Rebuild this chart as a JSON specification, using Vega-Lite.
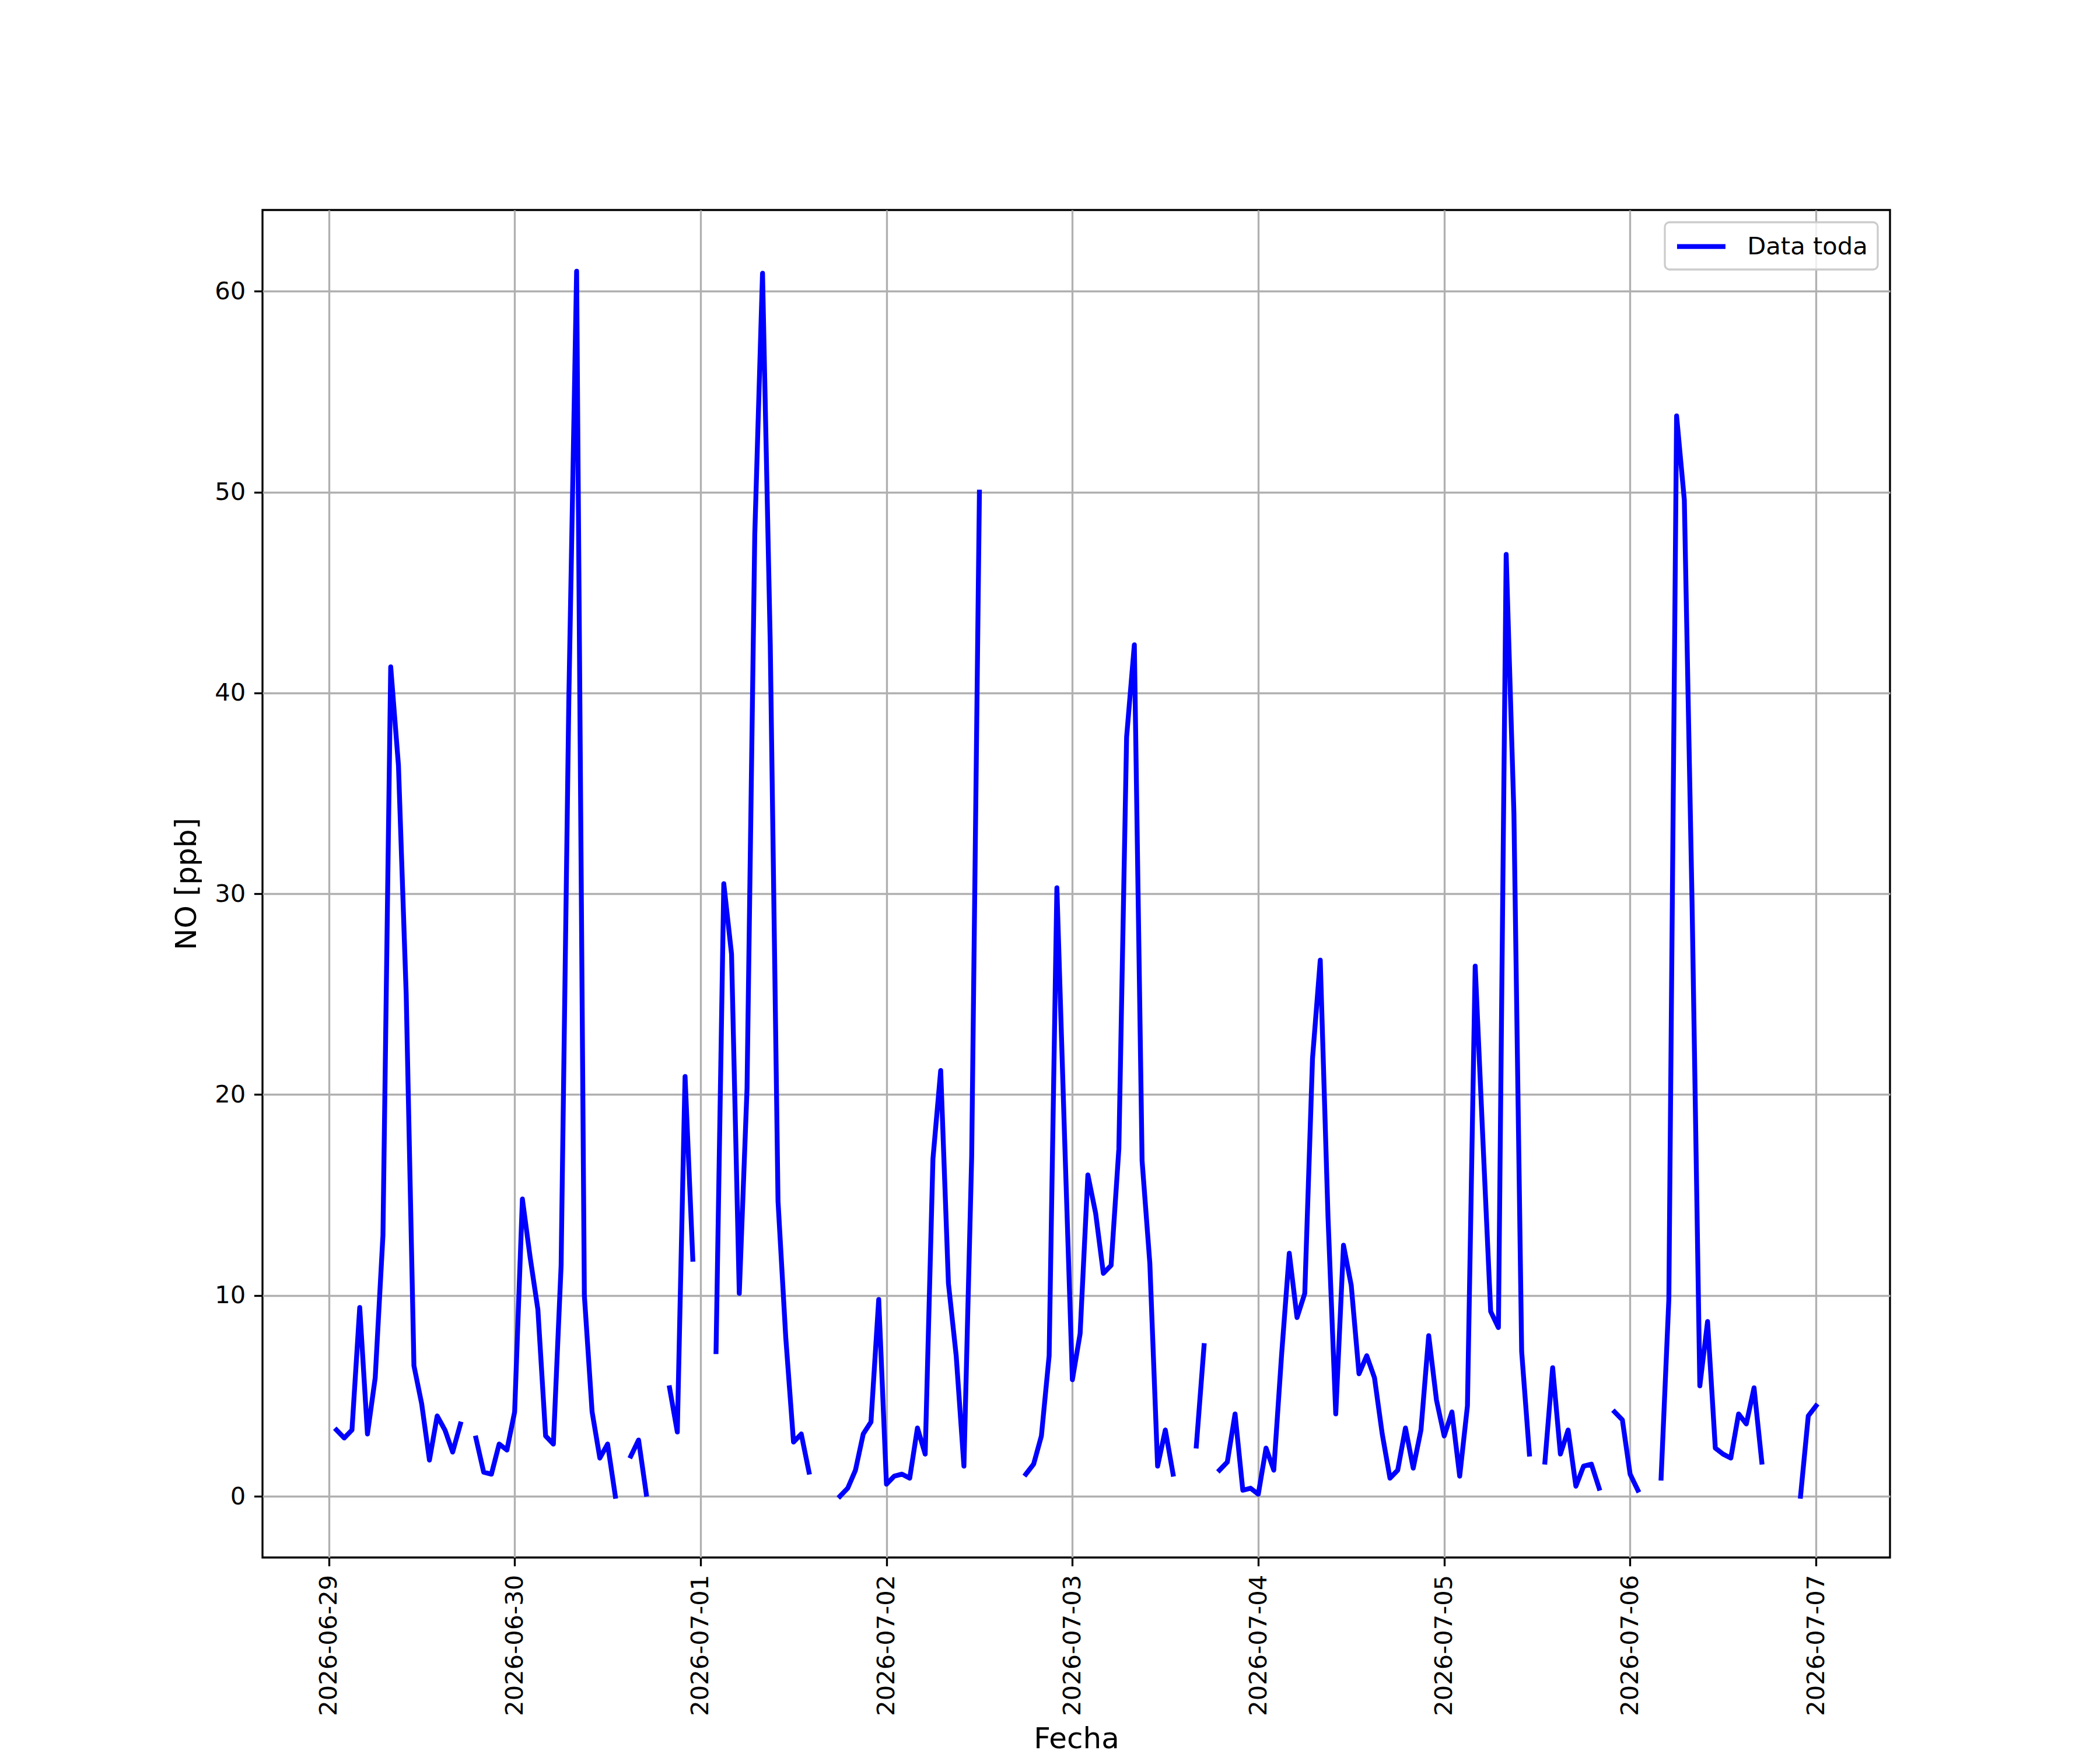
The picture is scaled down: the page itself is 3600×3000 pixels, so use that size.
{
  "$schema": "https://vega.github.io/schema/vega-lite/v6.json",
  "width": 2790,
  "height": 2310,
  "autosize": {"type": "none"},
  "padding": {"left": 450, "top": 360, "right": 360, "bottom": 330},
  "background": "white",
  "config": {
    "font": "DejaVu Sans",
    "view": {"stroke": "black", "strokeWidth": 3.33},
    "axis": {
      "labelFont": "DejaVu Sans", "labelFontSize": 41.67, "labelColor": "black", "labelLimit": 0,
      "titleFont": "DejaVu Sans", "titleFontSize": 50, "titleFontWeight": "normal", "titleColor": "black",
      "tickColor": "black", "tickWidth": 3.33, "tickSize": 14.58, "labelPadding": 14.58,
      "domain": false, "grid": true, "gridColor": "#b0b0b0", "gridWidth": 3.33, "gridOpacity": 1,
      "labelOverlap": false, "labelFlush": false, "labelBound": false
    },
    "legend": {
      "orient": "top-right", "offset": 21, "padding": 16.7, "strokeColor": "#cccccc", "strokeWidth": 3.33,
      "fillColor": "rgba(255,255,255,0.8)", "cornerRadius": 8,
      "labelFont": "DejaVu Sans", "labelFontSize": 41.67, "labelColor": "black", "labelOffset": 74.5, "labelLimit": 0,
      "symbolType": "M-1,0L3,0", "symbolSize": 1722, "symbolStrokeWidth": 8.33
    }
  },
  "data": {
    "format": {"parse": {"t": "date"}},
    "values": [
      {"t": "2026-06-29T01:00", "no": 3.3}, {"t": "2026-06-29T02:00", "no": 2.9}, {"t": "2026-06-29T03:00", "no": 3.3},
      {"t": "2026-06-29T04:00", "no": 9.4}, {"t": "2026-06-29T05:00", "no": 3.1}, {"t": "2026-06-29T06:00", "no": 5.9},
      {"t": "2026-06-29T07:00", "no": 13.0}, {"t": "2026-06-29T08:00", "no": 41.3}, {"t": "2026-06-29T09:00", "no": 36.4},
      {"t": "2026-06-29T10:00", "no": 25.0}, {"t": "2026-06-29T11:00", "no": 6.5}, {"t": "2026-06-29T12:00", "no": 4.6},
      {"t": "2026-06-29T13:00", "no": 1.8}, {"t": "2026-06-29T14:00", "no": 4.0}, {"t": "2026-06-29T15:00", "no": 3.3},
      {"t": "2026-06-29T16:00", "no": 2.2}, {"t": "2026-06-29T17:00", "no": 3.6}, {"t": "2026-06-29T18:00", "no": null},
      {"t": "2026-06-29T19:00", "no": 2.9}, {"t": "2026-06-29T20:00", "no": 1.2}, {"t": "2026-06-29T21:00", "no": 1.1},
      {"t": "2026-06-29T22:00", "no": 2.6}, {"t": "2026-06-29T23:00", "no": 2.3},
      {"t": "2026-06-30T00:00", "no": 4.2}, {"t": "2026-06-30T01:00", "no": 14.8}, {"t": "2026-06-30T02:00", "no": 11.9},
      {"t": "2026-06-30T03:00", "no": 9.3}, {"t": "2026-06-30T04:00", "no": 3.0}, {"t": "2026-06-30T05:00", "no": 2.6},
      {"t": "2026-06-30T06:00", "no": 11.5}, {"t": "2026-06-30T07:00", "no": 39.8}, {"t": "2026-06-30T08:00", "no": 61.0},
      {"t": "2026-06-30T09:00", "no": 10.0}, {"t": "2026-06-30T10:00", "no": 4.2}, {"t": "2026-06-30T11:00", "no": 1.9},
      {"t": "2026-06-30T12:00", "no": 2.6}, {"t": "2026-06-30T13:00", "no": 0.0}, {"t": "2026-06-30T14:00", "no": null},
      {"t": "2026-06-30T15:00", "no": 2.0}, {"t": "2026-06-30T16:00", "no": 2.8}, {"t": "2026-06-30T17:00", "no": 0.1},
      {"t": "2026-06-30T18:00", "no": null}, {"t": "2026-06-30T19:00", "no": null}, {"t": "2026-06-30T20:00", "no": 5.4},
      {"t": "2026-06-30T21:00", "no": 3.2}, {"t": "2026-06-30T22:00", "no": 20.9}, {"t": "2026-06-30T23:00", "no": 11.8},
      {"t": "2026-07-01T00:00", "no": null}, {"t": "2026-07-01T01:00", "no": null}, {"t": "2026-07-01T02:00", "no": 7.2},
      {"t": "2026-07-01T03:00", "no": 30.5}, {"t": "2026-07-01T04:00", "no": 27.0}, {"t": "2026-07-01T05:00", "no": 10.1},
      {"t": "2026-07-01T06:00", "no": 20.3}, {"t": "2026-07-01T07:00", "no": 47.9}, {"t": "2026-07-01T08:00", "no": 60.9},
      {"t": "2026-07-01T09:00", "no": 42.4}, {"t": "2026-07-01T10:00", "no": 14.7}, {"t": "2026-07-01T11:00", "no": 7.9},
      {"t": "2026-07-01T12:00", "no": 2.7}, {"t": "2026-07-01T13:00", "no": 3.1}, {"t": "2026-07-01T14:00", "no": 1.2},
      {"t": "2026-07-01T15:00", "no": null}, {"t": "2026-07-01T16:00", "no": null}, {"t": "2026-07-01T17:00", "no": null},
      {"t": "2026-07-01T18:00", "no": 0.0}, {"t": "2026-07-01T19:00", "no": 0.4}, {"t": "2026-07-01T20:00", "no": 1.3},
      {"t": "2026-07-01T21:00", "no": 3.1}, {"t": "2026-07-01T22:00", "no": 3.7}, {"t": "2026-07-01T23:00", "no": 9.8},
      {"t": "2026-07-02T00:00", "no": 0.6}, {"t": "2026-07-02T01:00", "no": 1.0}, {"t": "2026-07-02T02:00", "no": 1.1},
      {"t": "2026-07-02T03:00", "no": 0.9}, {"t": "2026-07-02T04:00", "no": 3.4}, {"t": "2026-07-02T05:00", "no": 2.1},
      {"t": "2026-07-02T06:00", "no": 16.8}, {"t": "2026-07-02T07:00", "no": 21.2}, {"t": "2026-07-02T08:00", "no": 10.6},
      {"t": "2026-07-02T09:00", "no": 7.0}, {"t": "2026-07-02T10:00", "no": 1.5}, {"t": "2026-07-02T11:00", "no": 16.9},
      {"t": "2026-07-02T12:00", "no": 50.0}, {"t": "2026-07-02T13:00", "no": null}, {"t": "2026-07-02T14:00", "no": null},
      {"t": "2026-07-02T15:00", "no": null}, {"t": "2026-07-02T16:00", "no": null}, {"t": "2026-07-02T17:00", "no": null},
      {"t": "2026-07-02T18:00", "no": 1.1}, {"t": "2026-07-02T19:00", "no": 1.6}, {"t": "2026-07-02T20:00", "no": 3.0},
      {"t": "2026-07-02T21:00", "no": 7.0}, {"t": "2026-07-02T22:00", "no": 30.3}, {"t": "2026-07-02T23:00", "no": 17.8},
      {"t": "2026-07-03T00:00", "no": 5.8}, {"t": "2026-07-03T01:00", "no": 8.1}, {"t": "2026-07-03T02:00", "no": 16.0},
      {"t": "2026-07-03T03:00", "no": 14.1}, {"t": "2026-07-03T04:00", "no": 11.1}, {"t": "2026-07-03T05:00", "no": 11.5},
      {"t": "2026-07-03T06:00", "no": 17.3}, {"t": "2026-07-03T07:00", "no": 37.8}, {"t": "2026-07-03T08:00", "no": 42.4},
      {"t": "2026-07-03T09:00", "no": 16.7}, {"t": "2026-07-03T10:00", "no": 11.6}, {"t": "2026-07-03T11:00", "no": 1.5},
      {"t": "2026-07-03T12:00", "no": 3.3}, {"t": "2026-07-03T13:00", "no": 1.1}, {"t": "2026-07-03T14:00", "no": null},
      {"t": "2026-07-03T15:00", "no": null}, {"t": "2026-07-03T16:00", "no": 2.5}, {"t": "2026-07-03T17:00", "no": 7.5},
      {"t": "2026-07-03T18:00", "no": null}, {"t": "2026-07-03T19:00", "no": 1.3}, {"t": "2026-07-03T20:00", "no": 1.7},
      {"t": "2026-07-03T21:00", "no": 4.1}, {"t": "2026-07-03T22:00", "no": 0.3}, {"t": "2026-07-03T23:00", "no": 0.4},
      {"t": "2026-07-04T00:00", "no": 0.1}, {"t": "2026-07-04T01:00", "no": 2.4}, {"t": "2026-07-04T02:00", "no": 1.3},
      {"t": "2026-07-04T03:00", "no": 7.0}, {"t": "2026-07-04T04:00", "no": 12.1}, {"t": "2026-07-04T05:00", "no": 8.9},
      {"t": "2026-07-04T06:00", "no": 10.1}, {"t": "2026-07-04T07:00", "no": 21.8}, {"t": "2026-07-04T08:00", "no": 26.7},
      {"t": "2026-07-04T09:00", "no": 13.9}, {"t": "2026-07-04T10:00", "no": 4.1}, {"t": "2026-07-04T11:00", "no": 12.5},
      {"t": "2026-07-04T12:00", "no": 10.5}, {"t": "2026-07-04T13:00", "no": 6.1}, {"t": "2026-07-04T14:00", "no": 7.0},
      {"t": "2026-07-04T15:00", "no": 5.9}, {"t": "2026-07-04T16:00", "no": 3.1}, {"t": "2026-07-04T17:00", "no": 0.9},
      {"t": "2026-07-04T18:00", "no": 1.3}, {"t": "2026-07-04T19:00", "no": 3.4}, {"t": "2026-07-04T20:00", "no": 1.4},
      {"t": "2026-07-04T21:00", "no": 3.3}, {"t": "2026-07-04T22:00", "no": 8.0}, {"t": "2026-07-04T23:00", "no": 4.8},
      {"t": "2026-07-05T00:00", "no": 3.0}, {"t": "2026-07-05T01:00", "no": 4.2}, {"t": "2026-07-05T02:00", "no": 1.0},
      {"t": "2026-07-05T03:00", "no": 4.5}, {"t": "2026-07-05T04:00", "no": 26.4}, {"t": "2026-07-05T05:00", "no": 17.7},
      {"t": "2026-07-05T06:00", "no": 9.2}, {"t": "2026-07-05T07:00", "no": 8.4}, {"t": "2026-07-05T08:00", "no": 46.9},
      {"t": "2026-07-05T09:00", "no": 34.0}, {"t": "2026-07-05T10:00", "no": 7.2}, {"t": "2026-07-05T11:00", "no": 2.1},
      {"t": "2026-07-05T12:00", "no": null}, {"t": "2026-07-05T13:00", "no": 1.7}, {"t": "2026-07-05T14:00", "no": 6.4},
      {"t": "2026-07-05T15:00", "no": 2.1}, {"t": "2026-07-05T16:00", "no": 3.3}, {"t": "2026-07-05T17:00", "no": 0.5},
      {"t": "2026-07-05T18:00", "no": 1.5}, {"t": "2026-07-05T19:00", "no": 1.6}, {"t": "2026-07-05T20:00", "no": 0.4},
      {"t": "2026-07-05T21:00", "no": null}, {"t": "2026-07-05T22:00", "no": 4.2}, {"t": "2026-07-05T23:00", "no": 3.8},
      {"t": "2026-07-06T00:00", "no": 1.1}, {"t": "2026-07-06T01:00", "no": 0.3}, {"t": "2026-07-06T02:00", "no": null},
      {"t": "2026-07-06T03:00", "no": null}, {"t": "2026-07-06T04:00", "no": 0.9}, {"t": "2026-07-06T05:00", "no": 9.8},
      {"t": "2026-07-06T06:00", "no": 53.8}, {"t": "2026-07-06T07:00", "no": 49.6}, {"t": "2026-07-06T08:00", "no": 29.5},
      {"t": "2026-07-06T09:00", "no": 5.5}, {"t": "2026-07-06T10:00", "no": 8.7}, {"t": "2026-07-06T11:00", "no": 2.4},
      {"t": "2026-07-06T12:00", "no": 2.1}, {"t": "2026-07-06T13:00", "no": 1.9}, {"t": "2026-07-06T14:00", "no": 4.1},
      {"t": "2026-07-06T15:00", "no": 3.6}, {"t": "2026-07-06T16:00", "no": 5.4}, {"t": "2026-07-06T17:00", "no": 1.7},
      {"t": "2026-07-06T18:00", "no": null}, {"t": "2026-07-06T19:00", "no": null}, {"t": "2026-07-06T20:00", "no": null},
      {"t": "2026-07-06T21:00", "no": null}, {"t": "2026-07-06T22:00", "no": 0.0}, {"t": "2026-07-06T23:00", "no": 4.0},
      {"t": "2026-07-07T00:00", "no": 4.5}
    ]
  },
  "mark": {"type": "line", "strokeWidth": 8.33, "strokeJoin": "round", "strokeCap": "square", "invalid": "break-paths-show-domains"},
  "encoding": {
    "x": {
      "field": "t", "type": "temporal", "title": "Fecha",
      "scale": {"domain": [
        {"year": 2026, "month": 6, "date": 28, "hours": 15, "minutes": 27},
        {"year": 2026, "month": 7, "date": 7, "hours": 9, "minutes": 33}
      ], "nice": false},
      "axis": {"format": "%Y-%m-%d", "labelAngle": 270, "tickCount": {"interval": "day", "step": 1}, "titleY": 286, "titleBaseline": "top"}
    },
    "y": {
      "field": "no", "type": "quantitative", "title": "NO [ppb]",
      "scale": {"domain": [-3.05, 64.05], "nice": false, "zero": false},
      "axis": {"values": [0, 10, 20, 30, 40, 50, 60], "titlePadding": 22}
    },
    "color": {
      "datum": "Data toda", "type": "nominal",
      "scale": {"range": ["#0000ff"]},
      "legend": {"title": null}
    }
  }
}
